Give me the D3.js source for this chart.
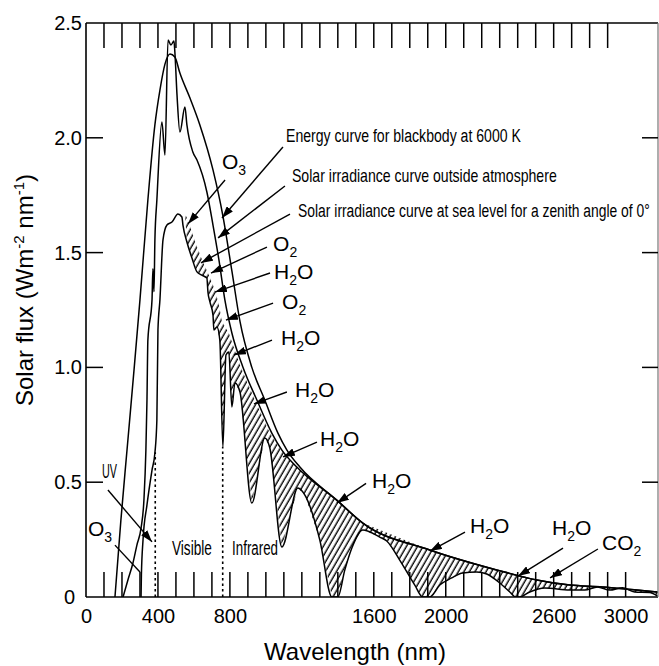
<!DOCTYPE html>
<html>
<head>
<meta charset="utf-8">
<script src="https://cdn.jsdelivr.net/npm/d3@7/dist/d3.min.js"></script>
<style>
body{margin:0;background:#fff;}
svg{display:block;}
</style>
</head>
<body>
<svg id="chart" width="659" height="666"></svg>
<script>
// ---------- data (wavelength nm, solar flux W m-2 nm-1) ----------
const blackbody = [[161,0],[194,0.335],[228,0.64],[267,0.989],[300,1.294],[344,1.729],[383,2.056],[411,2.208],[439,2.321],[467,2.365],[494,2.352],[522,2.282],[578,2.173],[633,2.056],[706,1.86],[761,1.66],[811,1.42],[856,1.2],[922,1.0],[994,0.858],[1067,0.714],[1117,0.64],[1189,0.566],[1394,0.422],[1539,0.322],[1911,0.205],[2283,0.118],[2506,0.074],[2689,0.052],[2872,0.044],[3061,0.030],[3178,0.022]];

const outsideAtm = [[206,0],[233,0.074],[261,0.148],[283,0.226],[306,0.30],[322,0.422],[333,0.64],[339,0.858],[344,1.119],[367,1.294],[372,1.43],[378,1.33],[383,1.555],[394,1.729],[422,2.069],[439,1.925],[456,2.426],[472,2.404],[489,2.422],[494,2.374],[506,2.186],[522,2.025],[550,2.134],[561,2.056],[594,1.938],[617,1.903],[672,1.764],[706,1.62],[739,1.468],[772,1.294],[811,1.15],[872,1.002],[950,0.858],[1033,0.714],[1089,0.64],[1172,0.566],[1394,0.422],[1539,0.322],[1911,0.205],[2283,0.118],[2506,0.074],[2689,0.052],[2872,0.044],[3061,0.030],[3178,0.022]];

const seaLevel = [[306,0],[308,0.096],[317,0.248],[339,0.401],[367,0.553],[383,0.627],[394,0.771],[400,1.163],[411,1.294],[428,1.555],[450,1.62],[478,1.633],[511,1.668],[533,1.655],[539,1.62],[561,1.546],[589,1.476],[617,1.416],[644,1.402],[672,1.389],[678,1.328],[689,1.285],[706,1.228],[711,1.163],[728,1.176],[744,1.119],[761,0.653],[778,1.054],[794,1.067],[811,0.828],[828,0.932],[856,0.893],[922,0.409],[994,0.692],[1022,0.649],[1089,0.218],[1178,0.475],[1217,0.444],[1300,0.248],[1367,0],[1400,0],[1439,0.118],[1478,0.213],[1539,0.292],[1633,0.261],[1672,0.244],[1744,0.161],[1828,0.052],[1872,0],[1911,0],[1967,0.052],[2033,0.083],[2094,0.105],[2172,0.109],[2228,0.100],[2300,0.061],[2356,0.022],[2389,0],[2411,0],[2467,0.022],[2550,0.039],[2689,0.030],[2772,0.030],[2844,0.044],[2911,0.030],[2983,0.040],[3050,0.022],[3133,0.020],[3178,0.004]];

// upper edge of the hatched absorption areas
const absorptionTop = [[550,1.672],[578,1.616],[611,1.537],[650,1.459],[683,1.402],[717,1.337],[739,1.272],[756,1.20],[778,1.17],[794,1.15],[861,1.0],[939,0.858],[1022,0.714],[1083,0.64],[1172,0.566],[1394,0.422],[1539,0.322],[1911,0.205],[2283,0.118],[2506,0.074],[2689,0.052],[2872,0.044],[3061,0.030],[3178,0.022]];

const yTickValues = [0, 0.5, 1.0, 1.5, 2.0, 2.5];
const yInnerTicks = [0.5, 1.0, 1.5, 2.0];
const xTickLabels = [0, 400, 800, 1600, 2000, 2600, 3000];
const bottomTicks = [100,200,300,400,500,600,700,800,900,1000,1100,1200,1300,1400,1500,1600,1700,1800,1900,2000,2100,2200,2300,2400,2500,2600,2700,2800,2900,3000];
const topTicks = [100,200,300,400,500,600,700,800,900,1000,1100,1200,1300,1400,1500,1600,1700,1800,1900,2000,2100,2200,2300,2400,2500,2600,2700,2800,2900];

// dotted region dividers: [wavelength, top value]
const dividers = [[385,0.63],[760,0.653]];

// curve annotations: text, label anchor, arrow start, arrow tip (data units)
const curveNotes = [
  {text:"Energy curve for blackbody at 6000 K", at:[1112,1.982], from:[1095,1.96], to:[756,1.651], w:235},
  {text:"Solar irradiance curve outside atmosphere", at:[1145,1.807], from:[1106,1.79], to:[734,1.564], w:265},
  {text:"Solar irradiance curve at sea level for a zenith angle of 0°", at:[1179,1.655], from:[1134,1.668], to:[639,1.455], w:352}
];

// absorbing gas labels: [main, subscript, tail], anchor, arrow start, arrow tip
const gasNotes = [
  {t:["O","3",""], at:[756,1.864], from:[773,1.816], to:[567,1.625]},
  {t:["O","2",""], at:[1040,1.507], from:[1006,1.524], to:[695,1.411]},
  {t:["H","2","O"], at:[1045,1.385], from:[1023,1.411], to:[717,1.328]},
  {t:["O","2",""], at:[1090,1.254], from:[1040,1.28], to:[778,1.206]},
  {t:["H","2","O"], at:[1084,1.098], from:[1034,1.119], to:[823,1.054]},
  {t:["H","2","O"], at:[1162,0.871], from:[1117,0.893], to:[934,0.841]},
  {t:["H","2","O"], at:[1301,0.658], from:[1284,0.675], to:[1095,0.61]},
  {t:["H","2","O"], at:[1590,0.475], from:[1557,0.495], to:[1395,0.409]},
  {t:["H","2","O"], at:[2135,0.279], from:[2107,0.283], to:[1912,0.2]},
  {t:["H","2","O"], at:[2591,0.27], from:[2652,0.213], to:[2402,0.091]},
  {t:["CO","2",""], at:[2869,0.205], from:[2846,0.209], to:[2580,0.083]}
];

const regionNotes = [
  {text:"Visible", at:[478,0.183], w:40},
  {text:"Infrared", at:[812,0.183], w:46},
  {text:"UV", at:[89,0.518], w:15}
];
const uvArrow = {from:[122,0.466], to:[367,0.24]};
const ozoneUV = {t:["O","3",""], at:[11,0.266], from:[161,0.226], to:[300,0.109]};

// ---------- drawing ----------
const svg = d3.select("#chart");
const x = d3.scaleLinear().domain([0, 3180]).range([86, 658]);
const y = d3.scaleLinear().domain([0, 2.5]).range([597, 23]);
const FONT = "'Liberation Sans', Arial, Helvetica, sans-serif";
const NARROW = "'Liberation Sans Narrow', 'Arial Narrow', 'Liberation Sans', Arial, sans-serif";

const defs = svg.append("defs");
const pat = defs.append("pattern").attr("id", "hatch")
  .attr("patternUnits", "userSpaceOnUse")
  .attr("width", 4.8).attr("height", 10)
  .attr("patternTransform", "rotate(30)");
pat.append("line").attr("x1", 1.2).attr("y1", -1).attr("x2", 1.2).attr("y2", 11)
  .attr("stroke", "#000").attr("stroke-width", 1.4);

defs.append("marker").attr("id", "arrow")
  .attr("viewBox", "0 0 12 8").attr("refX", 12).attr("refY", 4)
  .attr("markerWidth", 12).attr("markerHeight", 8)
  .attr("markerUnits", "userSpaceOnUse").attr("orient", "auto")
  .append("path").attr("d", "M0,0L12,4L0,8Z").attr("fill", "#000");

defs.append("clipPath").attr("id", "plotClip").append("rect")
  .attr("x", x(0)).attr("y", y(2.5))
  .attr("width", x(3180) - x(0)).attr("height", y(0) - y(2.5));

const plot = svg.append("g").attr("clip-path", "url(#plotClip)");

// hatched absorption areas
const poly = absorptionTop.concat(seaLevel.filter(d => d[0] >= 555).slice().reverse());
plot.append("path")
  .attr("d", d3.line().x(d => x(d[0])).y(d => y(d[1])).curve(d3.curveLinearClosed)(poly))
  .attr("fill", "url(#hatch)").attr("stroke", "none");

// curves
const line = d3.line().x(d => x(d[0])).y(d => y(d[1])).curve(d3.curveMonotoneX);
[blackbody, outsideAtm, seaLevel].forEach(s => {
  plot.append("path").attr("d", line(s))
    .attr("fill", "none").attr("stroke", "#000")
    .attr("stroke-width", 1.5).attr("stroke-linejoin", "round");
});

// dotted dividers
dividers.forEach(d => {
  plot.append("line")
    .attr("x1", x(d[0])).attr("x2", x(d[0]))
    .attr("y1", y(0)).attr("y2", y(d[1]))
    .attr("stroke", "#000").attr("stroke-width", 1.6)
    .attr("stroke-dasharray", "2.5,3");
});

// frame
const frame = svg.append("g").attr("stroke", "#000").attr("stroke-width", 1.6);
frame.append("line").attr("x1", x(0)).attr("x2", x(0)).attr("y1", y(0)).attr("y2", y(2.5));
frame.append("line").attr("x1", x(0)).attr("x2", x(3180)).attr("y1", y(0)).attr("y2", y(0));
frame.append("line").attr("x1", x(0)).attr("x2", x(3180)).attr("y1", y(2.5)).attr("y2", y(2.5));
svg.append("line").attr("x1", x(3180)).attr("x2", x(3180)).attr("y1", y(0)).attr("y2", y(2.5))
  .attr("stroke", "#777").attr("stroke-width", 1.2);

// inward ticks
const tk = svg.append("g").attr("stroke", "#000").attr("stroke-width", 1.5);
bottomTicks.forEach(v => tk.append("line").attr("x1", x(v)).attr("x2", x(v)).attr("y1", y(0)).attr("y2", y(0) - 25));
topTicks.forEach(v => tk.append("line").attr("x1", x(v)).attr("x2", x(v)).attr("y1", y(2.5)).attr("y2", y(2.5) + 25));
yInnerTicks.forEach(v => {
  tk.append("line").attr("x1", x(0)).attr("x2", x(0) + 17).attr("y1", y(v)).attr("y2", y(v));
  tk.append("line").attr("x1", x(3180) - 16).attr("x2", x(3180)).attr("y1", y(v)).attr("y2", y(v));
});

// tick labels
const xAx = svg.append("g").attr("transform", `translate(0,${y(0)})`)
  .call(d3.axisBottom(x).tickValues(xTickLabels).tickSize(0).tickPadding(12).tickFormat(d3.format("d")));
xAx.select(".domain").remove();
xAx.selectAll("text").attr("font-family", FONT).attr("font-size", 20).attr("fill", "#000");

const yAx = svg.append("g").attr("transform", `translate(${x(0) - 4},0)`)
  .call(d3.axisLeft(y).tickValues(yTickValues).tickSize(0).tickPadding(0)
    .tickFormat(d => d === 0 ? "0" : d3.format(".1f")(d)));
yAx.select(".domain").remove();
yAx.selectAll("text").attr("font-family", FONT).attr("font-size", 20).attr("fill", "#000")
  .attr("dx", d => d === 0 ? -7 : 0);

// axis titles
svg.append("text").attr("x", 355).attr("y", 660).attr("text-anchor", "middle")
  .attr("font-family", FONT).attr("font-size", 24).text("Wavelength (nm)");
const yt = svg.append("text").attr("transform", "translate(33,290) rotate(-90)")
  .attr("text-anchor", "middle").attr("font-family", FONT).attr("font-size", 24);
yt.append("tspan").text("Solar flux (Wm");
yt.append("tspan").attr("font-size", 15).attr("dy", -9).text("-2");
yt.append("tspan").attr("dy", 9).text(" nm");
yt.append("tspan").attr("font-size", 15).attr("dy", -9).text("-1");
yt.append("tspan").attr("dy", 9).text(")");

// arrows helper
function arrow(from, to, head) {
  const l = svg.append("line")
    .attr("x1", x(from[0])).attr("y1", y(from[1]))
    .attr("x2", x(to[0])).attr("y2", y(to[1]))
    .attr("stroke", "#000").attr("stroke-width", 1.4);
  if (head) l.attr("marker-end", "url(#arrow)");
}

// condensed text: natural glyphs squeezed horizontally to the target width
function narrowText(str, at, w, size) {
  const t = svg.append("text").attr("x", 0).attr("y", 0)
    .attr("font-family", NARROW).attr("font-size", size).text(str);
  const natural = t.node().getComputedTextLength();
  t.attr("transform", `translate(${x(at[0])},${y(at[1])}) scale(${w / natural},1)`);
}

// curve notes
curveNotes.forEach(n => {
  narrowText(n.text, n.at, n.w, 19);
  arrow(n.from, n.to, true);
});

// gas labels
function gasLabel(n) {
  const t = svg.append("text").attr("x", x(n.at[0])).attr("y", y(n.at[1]))
    .attr("font-family", FONT).attr("font-size", 21);
  t.append("tspan").text(n.t[0]);
  t.append("tspan").attr("font-size", 14).attr("dy", 6).text(n.t[1]);
  if (n.t[2]) t.append("tspan").attr("dy", -6).text(n.t[2]);
}
gasNotes.forEach(n => { gasLabel(n); arrow(n.from, n.to, true); });

// region notes
regionNotes.forEach(n => narrowText(n.text, n.at, n.w, 20));
arrow(uvArrow.from, uvArrow.to, true);
gasLabel(ozoneUV);
arrow(ozoneUV.from, ozoneUV.to, false);
</script>
</body>
</html>
